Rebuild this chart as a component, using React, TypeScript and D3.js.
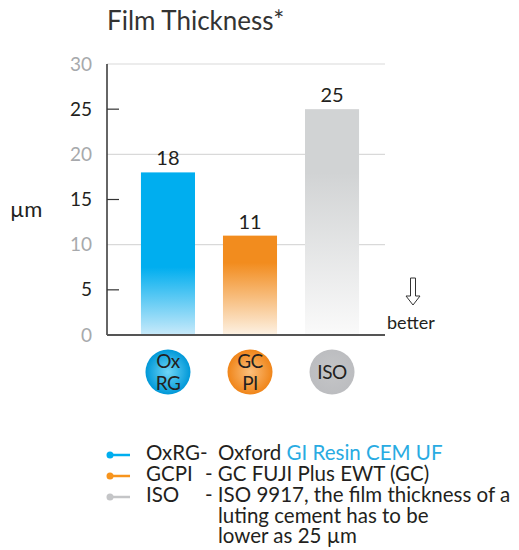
import React from "react";
import { scaleBand, scaleLinear } from "d3";

const categories = ["OxRG", "GCPI", "ISO"];
const values = [18, 11, 25];
const badgeLines = [["Ox", "RG"], ["GC", "PI"], ["ISO"]];
const gridTicks = [0, 10, 20, 30];
const minorTicks = [5, 15, 25];
const legendRows = [
  { key: "OxRG", label: "OxRG-", lines: [["Oxford ", "GI Resin CEM UF"]] },
  { key: "GCPI", label: "GCPI", lines: [["- GC FUJI Plus EWT (GC)", ""]] },
  {
    key: "ISO",
    label: "ISO",
    lines: [
      ["- ISO 9917, the film thickness of a", ""],
      ["luting cement has to be", ""],
      ["lower as 25 µm", ""],
    ],
  },
];

const colors: Record<string, { top: string; bottom: string; fadeFrom: number; c1: string; c2: string; dot: string }> = {
  OxRG: { top: "#00aeef", bottom: "#c9eafa", fadeFrom: 7.5, c1: "#6fd6f7", c2: "#0098d8", dot: "#00aeef" },
  GCPI: { top: "#f28c1e", bottom: "#fdf2e4", fadeFrom: 8, c1: "#fbbf7c", c2: "#f08519", dot: "#f7941d" },
  ISO: { top: "#d1d3d4", bottom: "#fafafa", fadeFrom: 18, c1: "#c4c5c7", c2: "#bcbdc0", dot: "#c4c5c7" },
};

const FONT = "Lato, 'Open Sans', sans-serif";
const TEXT = "#231f20";

export default function App() {
  const W = 519;
  const H = 550;
  const x0 = 107;
  const x1 = 385;

  const x = scaleBand<string>()
    .domain(categories)
    .range([127, 373])
    .paddingInner(0.341)
    .paddingOuter(0.17);
  const y = scaleLinear().domain([0, 30]).range([335, 64]);

  return (
    <svg
      width={W}
      height={H}
      style={{ position: "absolute", left: 0, top: 0 }}
      fontFamily={FONT}
    >
      <defs>
        {categories.map((c) => (
          <linearGradient
            key={c}
            id={`bar-${c}`}
            gradientUnits="userSpaceOnUse"
            x1="0"
            y1={y(colors[c].fadeFrom)}
            x2="0"
            y2={y(0)}
          >
            <stop offset="0%" stopColor={colors[c].top} />
            <stop offset="100%" stopColor={colors[c].bottom} />
          </linearGradient>
        ))}
        {categories.map((c) => (
          <radialGradient key={c} id={`badge-${c}`} cx="0.5" cy="0.5" r="0.5">
            <stop offset="0%" stopColor={colors[c].c1} />
            <stop offset="100%" stopColor={colors[c].c2} />
          </radialGradient>
        ))}
      </defs>

      <text x={107} y={30} fontSize={26} fill="#333">
        Film Thickness*
      </text>

      {/* grid lines and labels */}
      {gridTicks.map((t) => (
        <g key={t}>
          {t > 0 && (
            <line x1={x0} x2={x1} y1={y(t)} y2={y(t)} stroke="#d9d9d9" strokeWidth={1.2} />
          )}
          <text x={92} y={y(t)} dy="0.35em" textAnchor="end" fontSize={19} fill="#a7a9ac">
            {t}
          </text>
        </g>
      ))}
      {minorTicks.map((t) => (
        <g key={t}>
          <line x1={x0} x2={x0 + 12} y1={y(t)} y2={y(t)} stroke="#333" strokeWidth={1.2} />
          <text x={92} y={y(t)} dy="0.35em" textAnchor="end" fontSize={19} fill={TEXT}>
            {t}
          </text>
        </g>
      ))}

      <text x={10} y={217} fontSize={22} fill={TEXT}>
        µm
      </text>

      {/* bars */}
      {categories.map((c, i) => (
        <g key={c}>
          <rect
            x={x(c)}
            y={y(values[i])}
            width={x.bandwidth()}
            height={y(0) - y(values[i])}
            fill={`url(#bar-${c})`}
          />
          <text
            x={x(c)! + x.bandwidth() / 2}
            y={y(values[i]) - 7}
            textAnchor="middle"
            fontSize={20}
            fill={TEXT}
          >
            {values[i]}
          </text>
        </g>
      ))}

      {/* axes */}
      <line x1={x0} x2={x0} y1={y(30)} y2={y(0)} stroke="#333" strokeWidth={1.5} />
      <line x1={x0} x2={x1} y1={y(0)} y2={y(0)} stroke="#555" strokeWidth={2} />

      {/* better arrow */}
      <g transform="translate(413, 278)" fill="none" stroke="#333" strokeWidth={1}>
        <path d="M-2.5,0 L2.5,0 L2.5,18 L7,18 L0,27 L-7,18 L-2.5,18 Z" />
      </g>
      <text x={387} y={329} fontSize={18} fill={TEXT}>
        better
      </text>

      {/* badges */}
      {categories.map((c, i) => {
        const cx = x(c)! + x.bandwidth() / 2;
        const cy = 372;
        const lines = badgeLines[i];
        return (
          <g key={c}>
            <circle cx={cx} cy={cy} r={22.5} fill={`url(#badge-${c})`} />
            <text textAnchor="middle" fontSize={19} fill={TEXT} letterSpacing={-0.5}>
              {lines.length === 2 ? (
                <>
                  <tspan x={cx} y={cy - 4}>{lines[0]}</tspan>
                  <tspan x={cx} y={cy + 18}>{lines[1]}</tspan>
                </>
              ) : (
                <tspan x={cx} y={cy + 7}>{lines[0]}</tspan>
              )}
            </text>
          </g>
        );
      })}

      {/* legend */}
      {legendRows.map((r, i) => {
        const baseY = 460 + i * 21;
        const ly = baseY - 5;
        return (
          <g key={r.key}>
            <line x1={110} x2={130} y1={ly} y2={ly} stroke={colors[r.key].dot} strokeWidth={2.5} />
            <circle cx={110} cy={ly} r={3.5} fill={colors[r.key].dot} />
            <text fontSize={20.5} fill={TEXT}>
              <tspan x={146} y={baseY}>{r.label}</tspan>
              {r.lines.map((l, j) => (
                <tspan key={j} x={j === 0 && r.key !== "OxRG" ? 205 : 218} y={baseY + j * 20.5}>
                  {l[0]}
                  {l[1] && <tspan fill="#29abe2">{l[1]}</tspan>}
                </tspan>
              ))}
            </text>
          </g>
        );
      })}
    </svg>
  );
}
